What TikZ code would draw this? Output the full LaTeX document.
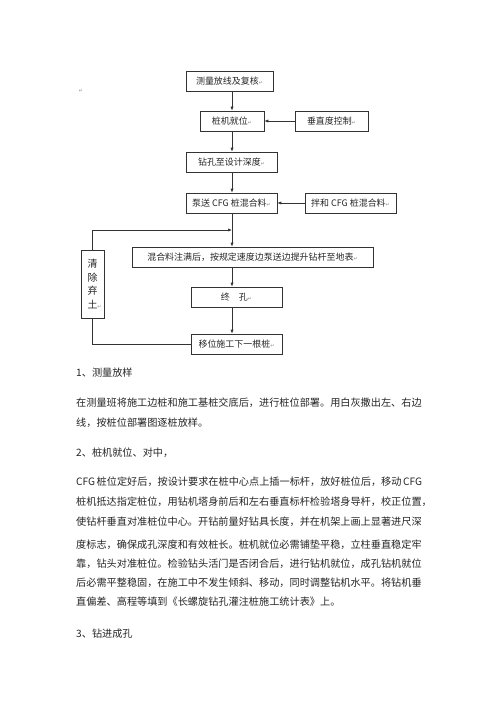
\documentclass[tikz,border=0pt]{standalone}
\usepackage{fontspec}
\setmainfont{Noto Sans CJK SC}
\newfontfamily\dejavu{DejaVu Sans}
\usetikzlibrary{arrows.meta,calc}
\XeTeXlinebreaklocale "zh"
\XeTeXlinebreakskip=0pt plus 2pt minus 0.6pt
\newcommand{\rmark}{{\dejavu\color{black!45}\fontsize{5}{5}\selectfont ↵}}
\tikzset{
  box/.style={draw=black!80, line width=0.7bp, inner sep=0pt, minimum height=20bp, align=center,
     font=\fontsize{9}{10}\selectfont, text=black!85},
  arr/.style={draw=black!80, line width=0.7bp, -{Latex[length=4bp,width=3.2bp]}},
  ln/.style={draw=black!80, line width=0.7bp},
  bodyline/.style={anchor=west, inner sep=0pt, font=\fontsize{10.2}{12}\selectfont, text=black!85}
}
\newcommand{\jl}[1]{\makebox[347bp][s]{#1}}
\begin{document}
\begin{tikzpicture}[x=1bp,y=-1bp]
\useasboundingbox[fill=white] (0,0) rectangle (500,707);
\coordinate (sp) at (232,0);
\coordinate (j) at (232,230);
\node[inner sep=0pt] (m0) at (81,91) {\rmark};
\node[box, minimum width=87bp] (n1) at (229.5,81) {测量放线及复核\rmark};
\node[box, minimum width=64bp] (n2) at (232,121) {桩机就位\rmark};
\node[box, minimum width=73bp] (n3) at (331.5,121) {垂直度控制\rmark};
\node[box, minimum width=91bp] (n4) at (231.5,162) {钻孔至设计深度\rmark};
\node[box, minimum width=91bp] (n5) at (231.5,203) {泵送 CFG 桩混合料\rmark};
\node[box, minimum width=91bp] (n6) at (350.5,203) {拌和 CFG 桩混合料\rmark};
\node[box, minimum width=241bp] (n7) at (252.5,257) {混合料注满后，按规定速度边泵送边提升钻杆至地表\rmark};
\node[box, minimum width=23bp, minimum height=68bp, font=\fontsize{10}{14}\selectfont] (n8) at (92.5,284) {清\\除\\弃\\土\rlap{\rmark}};
\node[box, minimum width=91bp] (n9) at (236.5,297) {终\quad 孔\rmark};
\node[box, minimum width=91bp] (n10) at (236.5,344) {移位施工下一根桩\rmark};

\draw[arr] (n1.south -| sp) -- (n2.north -| sp);
\draw[arr] (n3.west) -- (n2.east);
\draw[arr] (n2.south -| sp) -- (n4.north -| sp);
\draw[arr] (n4.south -| sp) -- (n5.north -| sp);
\draw[arr] (n6.west) -- (n5.east);
\draw[arr] (n5.south -| sp) -- (n7.north -| sp);
\draw[arr] (n8.north) |- (j);
\draw[arr] (n7.south -| sp) -- (n9.north -| sp);
\draw[arr] (n9.south -| sp) -- (n10.north -| sp);
\draw[ln] (n8.south) |- (n10.west);

\node[bodyline] (t1) at (76,373) {1、测量放样};
\node[bodyline] (t2) at (76,403) {\jl{在测量班将施工边桩和施工基桩交底后，进行桩位部署。用白灰撒出左、右边}};
\node[bodyline] (t3) at (76,423) {线，按桩位部署图逐桩放样。};
\node[bodyline] (t4) at (76,453) {2、桩机就位、对中，};
\node[bodyline] (t5) at (76,482) {\makebox[338bp][s]{CFG 桩位定好后，按设计要求在桩中心点上插一标杆，放好桩位后，移动 CFG}};
\node[bodyline] (t6) at (76,502) {\makebox[345bp][s]{桩机抵达指定桩位，用钻机塔身前后和左右垂直标杆检验塔身导杆，校正位置，}};
\node[bodyline] (t7) at (76,522) {\jl{使钻杆垂直对准桩位中心。开钻前量好钻具长度，并在机架上画上显著进尺深}};
\node[bodyline] (t8) at (76,545) {\jl{度标志，确保成孔深度和有效桩长。桩机就位必需铺垫平稳，立柱垂直稳定牢}};
\node[bodyline] (t9) at (76,564) {\jl{靠，钻头对准桩位。检验钻头活门是否闭合后，进行钻机就位，成孔钻机就位}};
\node[bodyline] (t10) at (76,583) {\jl{后必需平整稳固，在施工中不发生倾斜、移动，同时调整钻机水平。将钻机垂}};
\node[bodyline] (t11) at (76,602) {直偏差、高程等填到《长螺旋钻孔灌注桩施工统计表》上。};
\node[bodyline] (t12) at (76,634) {3、钻进成孔};
\end{tikzpicture}
\end{document}
